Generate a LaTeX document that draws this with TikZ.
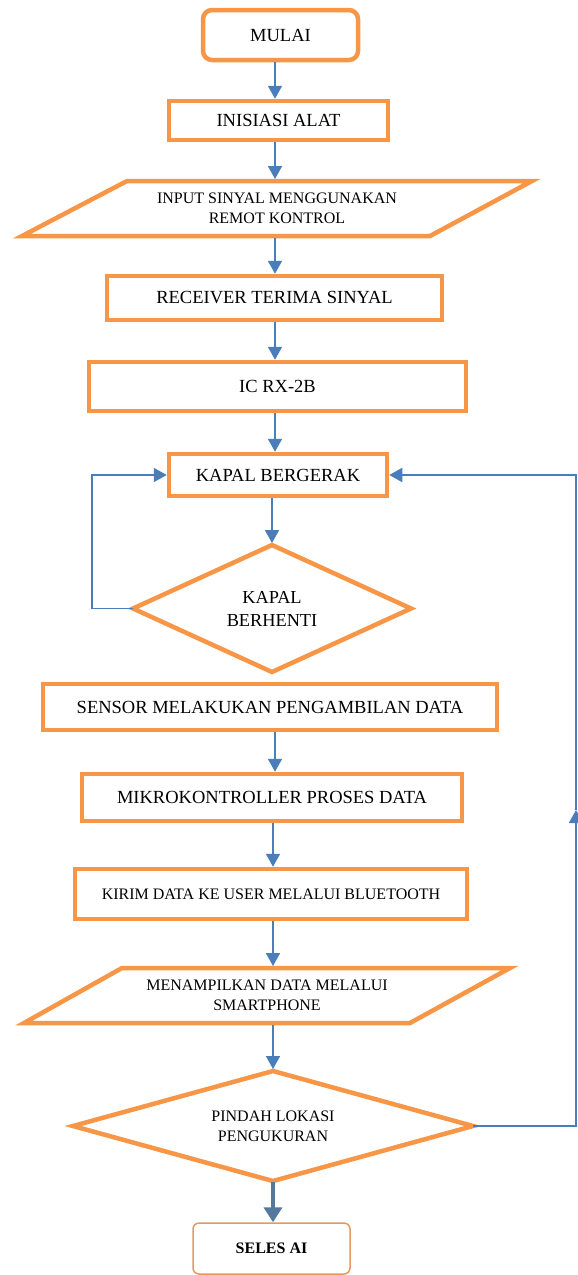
\documentclass[tikz,border=0pt]{standalone}
\usepackage{fontspec}
\setmainfont{Liberation Serif}
\usetikzlibrary{arrows.meta}
\definecolor{boxorange}{HTML}{F79646}
\definecolor{arrowblue}{HTML}{4A7EBB}
\definecolor{endblue}{HTML}{55789F}
\definecolor{endorange}{HTML}{E39A62}
\newcommand\bigtxt{\fontsize{18.5}{22}\selectfont}
\newcommand\smalltxt{\fontsize{16}{20}\selectfont}
\begin{document}
\begin{tikzpicture}[x=1pt,y=-1pt,
  box/.style={draw=boxorange, line width=4.5pt, fill=white, inner sep=0pt, align=center, font=\bigtxt},
  ghost/.style={inner sep=0pt, outer sep=0pt, align=center, font=\smalltxt},
  shapeline/.style={draw=boxorange, line width=4.5pt, line join=miter},
  arr/.style={draw=arrowblue, line width=1.8pt, -{Triangle[length=13pt,width=14pt]}},
  endarr/.style={draw=endblue, line width=4pt, -{Triangle[length=15pt,width=18pt]}}]
\useasboundingbox (0,0) rectangle (578,1275);

% boxes
\node[box, rounded corners=9pt, minimum width=155pt, minimum height=50pt] (mulai) at (280.5,35) {MULAI};
\node[box, minimum width=219pt, minimum height=39pt] (inisiasi) at (278.5,120.5) {\raisebox{-4pt}{INISIASI ALAT}};

\node[ghost, minimum width=510pt, minimum height=55pt] (input) at (277,208.5) {INPUT SINYAL MENGGUNAKAN\\ REMOT KONTROL};
\draw[shapeline] ([xshift=105pt]input.north west) -- (input.north east) -- ([xshift=-102pt]input.south east) -- (input.south west) -- cycle;

\node[box, minimum width=335pt, minimum height=44pt] (receiver) at (274.5,298) {RECEIVER TERIMA SINYAL};
\node[box, minimum width=377pt, minimum height=49pt] (ic) at (277.5,386.5) {IC RX-2B};
\node[box, minimum width=218pt, minimum height=42pt] (kapal) at (278,475) {KAPAL BERGERAK};

\node[ghost, font=\fontsize{18.3}{23}\selectfont, minimum width=278pt, minimum height=127pt] (berhenti) at (272,608.5) {KAPAL\\ BERHENTI};
\draw[shapeline] (berhenti.north) -- (berhenti.east) -- (berhenti.south) -- (berhenti.west) -- cycle;

\node[box, minimum width=454pt, minimum height=46pt] (sensor) at (270,707) {SENSOR MELAKUKAN PENGAMBILAN DATA};
\node[box, minimum width=380pt, minimum height=47pt] (mikro) at (272,797.5) {MIKROKONTROLLER PROSES DATA};
\node[box, font=\smalltxt, minimum width=392pt, minimum height=50pt] (kirim) at (271,894) {KIRIM DATA KE USER MELALUI BLUETOOTH};

\node[ghost, minimum width=486pt, minimum height=55pt] (tampil) at (267,995.5) {MENAMPILKAN DATA MELALUI\\ SMARTPHONE};
\draw[shapeline] ([xshift=98pt]tampil.north west) -- (tampil.north east) -- ([xshift=-100pt]tampil.south east) -- (tampil.south west) -- cycle;

\node[ghost, minimum width=400pt, minimum height=110pt] (pindah) at (273,1126) {PINDAH LOKASI\\ PENGUKURAN};
\draw[shapeline] (pindah.north) -- (pindah.east) -- (pindah.south) -- (pindah.west) -- cycle;

\node[draw=endorange, line width=1.5pt, rounded corners=6pt, inner sep=0pt, minimum width=157pt, minimum height=51pt, font=\fontsize{16}{18}\selectfont\bfseries] (selesai) at (271.5,1248.5) {SELES AI};

% connectors
\coordinate (ax) at (275,0);
\coordinate (bx) at (273,0);
\coordinate (lc) at (92,0);
\coordinate (rc) at (576,810);
\draw[arr] (mulai.south -| ax) -- (inisiasi.north -| ax);
\draw[arr, shorten >=2pt] (inisiasi.south -| ax) -- (input.north -| ax);
\draw[arr, shorten <=2pt] (input.south -| ax) -- (receiver.north -| ax);
\draw[arr] (receiver.south -| ax) -- (ic.north -| ax);
\draw[arr] (ic.south -| ax) -- (kapal.north -| ax);
\draw[arr, shorten >=2pt] (kapal.south -| berhenti.north) -- (berhenti.north);
\draw[arr] (berhenti.west) -- (berhenti.west -| lc) |- (kapal.west);
\draw[arr] (sensor.south -| ax) -- (mikro.north -| ax);
\draw[arr] (mikro.south -| bx) -- (kirim.north -| bx);
\draw[arr, shorten >=2pt] (kirim.south -| bx) -- (tampil.north -| bx);
\draw[arr, shorten <=2pt, shorten >=2pt] (tampil.south -| pindah.north) -- (pindah.north);
\draw[arr] (pindah.east) -| (rc);
\draw[arr] (rc) |- (kapal.east);
\draw[endarr, shorten <=1pt] (pindah.south) -- (selesai.north -| pindah.south);
\end{tikzpicture}
\end{document}
